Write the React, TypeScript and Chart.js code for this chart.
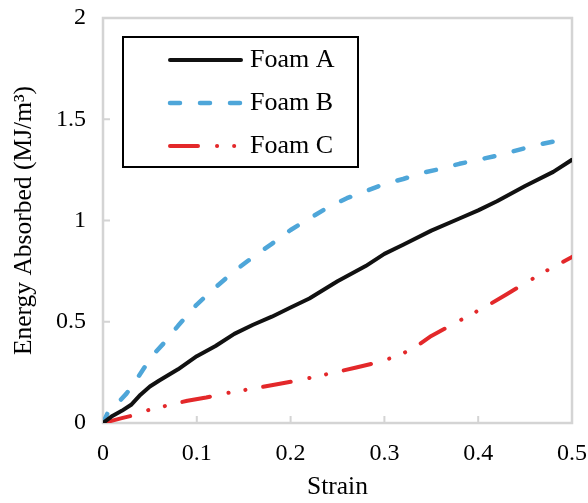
import { useEffect, useRef } from "react";
import { Chart, registerables } from "chart.js";

Chart.register(...registerables);

// Energy absorbed vs. strain for three foams
const strainA = [0, 0.01, 0.02, 0.03, 0.04, 0.05, 0.06, 0.08, 0.1, 0.12, 0.14, 0.16, 0.18, 0.2, 0.22, 0.25, 0.28, 0.3, 0.32, 0.35, 0.38, 0.4, 0.42, 0.45, 0.48, 0.5];
const energyA = [0, 0.035, 0.06, 0.09, 0.14, 0.18, 0.21, 0.265, 0.33, 0.38, 0.44, 0.485, 0.525, 0.57, 0.615, 0.7, 0.775, 0.835, 0.88, 0.95, 1.01, 1.05, 1.095, 1.17, 1.24, 1.3];

const strainB = [0, 0.005, 0.015, 0.025, 0.035, 0.045, 0.055, 0.065, 0.08, 0.1, 0.12, 0.14, 0.16, 0.18, 0.2, 0.22, 0.24, 0.26, 0.28, 0.3, 0.32, 0.34, 0.36, 0.38, 0.4, 0.42, 0.44, 0.46, 0.48, 0.5];
const energyB = [0, 0.05, 0.095, 0.145, 0.21, 0.28, 0.345, 0.395, 0.48, 0.585, 0.67, 0.75, 0.82, 0.885, 0.953, 1.01, 1.065, 1.11, 1.145, 1.18, 1.205, 1.235, 1.255, 1.28, 1.3, 1.32, 1.345, 1.37, 1.39, 1.405];

const strainC = [0, 0.01, 0.02, 0.03, 0.05, 0.07, 0.09, 0.11, 0.13, 0.15, 0.17, 0.19, 0.21, 0.23, 0.25, 0.27, 0.29, 0.31, 0.33, 0.35, 0.37, 0.39, 0.41, 0.43, 0.45, 0.47, 0.49, 0.5];
const energyC = [0, 0.012, 0.024, 0.035, 0.066, 0.088, 0.11, 0.126, 0.146, 0.162, 0.178, 0.195, 0.212, 0.232, 0.253, 0.274, 0.296, 0.325, 0.365, 0.43, 0.48, 0.53, 0.58, 0.635, 0.69, 0.745, 0.795, 0.82];

const seriesNames = ["Foam A", "Foam B", "Foam C"];
const xTickLabels = ["0", "0.1", "0.2", "0.3", "0.4", "0.5"];
const yTickLabels = ["0", "0.5", "1", "1.5", "2"];
const xTitle = "Strain";
const yTitle = "Energy Absorbed (MJ/m\u00B3)";

const SERIF = '"Liberation Serif", "Times New Roman", serif';

const toPoints = (xs: number[], ys: number[]) => xs.map((x, i) => ({ x, y: ys[i] }));

// Light grey box around the plot area with inward tick marks
const framePlugin = {
  id: "plotFrame",
  beforeDatasetsDraw(chart: any) {
    const { ctx, chartArea, scales } = chart;
    const { left, right, top, bottom } = chartArea;
    ctx.save();
    ctx.strokeStyle = "#d4d4d4";
    ctx.lineWidth = 2.5;
    ctx.strokeRect(left, top, right - left, bottom - top);
    ctx.lineWidth = 2;
    ctx.beginPath();
    scales.x.ticks.forEach((t: any) => {
      const px = scales.x.getPixelForValue(t.value);
      ctx.moveTo(px, bottom);
      ctx.lineTo(px, bottom - 7);
    });
    scales.y.ticks.forEach((t: any) => {
      const py = scales.y.getPixelForValue(t.value);
      ctx.moveTo(left, py);
      ctx.lineTo(left + 7, py);
    });
    ctx.stroke();
    ctx.restore();
  },
};

// Boxed legend in the upper-left of the plot
const boxLegendPlugin = {
  id: "boxLegend",
  afterDraw(chart: any) {
    const { ctx } = chart;
    const bx = 123, by = 37, bw = 235, bh = 130;
    ctx.save();
    ctx.fillStyle = "#ffffff";
    ctx.fillRect(bx, by, bw, bh);
    ctx.strokeStyle = "#000000";
    ctx.lineWidth = 2;
    ctx.strokeRect(bx, by, bw, bh);
    chart.data.datasets.forEach((ds: any, i: number) => {
      const y = 60 + i * 43;
      ctx.beginPath();
      ctx.strokeStyle = ds.borderColor;
      ctx.lineWidth = ds.borderWidth;
      ctx.lineCap = ds.borderCapStyle || "butt";
      ctx.setLineDash(ds.borderDash || []);
      ctx.moveTo(170, y);
      ctx.lineTo(241, y);
      ctx.stroke();
      ctx.setLineDash([]);
      ctx.fillStyle = "#000000";
      ctx.font = `26px ${SERIF}`;
      ctx.textBaseline = "middle";
      ctx.textAlign = "left";
      ctx.fillText(ds.label, 250, y);
    });
    ctx.restore();
  },
};

export default function App() {
  const canvasRef = useRef<HTMLCanvasElement>(null);

  useEffect(() => {
    const canvas = canvasRef.current;
    if (!canvas) return;
    const chart = new Chart(canvas, {
      type: "line",
      data: {
        datasets: [
          {
            label: seriesNames[0],
            data: toPoints(strainA, energyA),
            borderColor: "#111111",
            borderWidth: 4,
            borderCapStyle: "round",
            borderJoinStyle: "round",
            pointRadius: 0,
            tension: 0,
          },
          {
            label: seriesNames[1],
            data: toPoints(strainB, energyB),
            borderColor: "#4ea6d9",
            borderWidth: 4.5,
            borderDash: [10, 20],
            borderCapStyle: "round",
            borderJoinStyle: "round",
            pointRadius: 0,
            tension: 0,
          },
          {
            label: seriesNames[2],
            data: toPoints(strainC, energyC),
            borderColor: "#e3282a",
            borderWidth: 4,
            borderDash: [28, 19, 0.1, 17, 0.1, 18],
            borderCapStyle: "round",
            borderJoinStyle: "round",
            pointRadius: 0,
            tension: 0,
          },
        ],
      },
      options: {
        responsive: false,
        animation: false,
        devicePixelRatio: 1,
        layout: { padding: { left: 0, right: 16, top: 18, bottom: 0 } },
        plugins: {
          legend: { display: false },
          tooltip: { enabled: false },
        },
        scales: {
          x: {
            type: "linear",
            min: 0,
            max: 0.5,
            grid: { display: false, drawTicks: false },
            border: { display: false },
            ticks: {
              stepSize: 0.1,
              color: "#000000",
              padding: 16,
              font: { family: SERIF, size: 24 },
              maxRotation: 0,
              callback: (_v: any, i: number) => xTickLabels[i],
            },
            title: {
              display: true,
              text: xTitle,
              color: "#000000",
              font: { family: SERIF, size: 25.5 },
              padding: { top: 0, bottom: 0 },
            },
            afterFit: (scale: any) => {
              scale.height = 80;
              scale.paddingLeft = 0;
              scale.paddingRight = 0;
            },
          },
          y: {
            min: 0,
            max: 2,
            grid: { display: false, drawTicks: false },
            border: { display: false },
            ticks: {
              stepSize: 0.5,
              color: "#000000",
              padding: 17,
              font: { family: SERIF, size: 24 },
              callback: (_v: any, i: number) => yTickLabels[i],
            },
            title: {
              display: true,
              text: yTitle,
              color: "#000000",
              font: { family: SERIF, size: 25.5 },
              padding: { top: 9, bottom: 0 },
            },
            afterFit: (scale: any) => {
              scale.width = 103;
              scale.paddingTop = 0;
              scale.paddingBottom = 0;
            },
          },
        },
      },
      plugins: [framePlugin, boxLegendPlugin],
    } as any);
    return () => chart.destroy();
  }, []);

  return (
    <div style={{ position: "absolute", left: 0, top: 0, width: 588, height: 503, background: "#ffffff" }}>
      <canvas ref={canvasRef} width={588} height={503} />
    </div>
  );
}
